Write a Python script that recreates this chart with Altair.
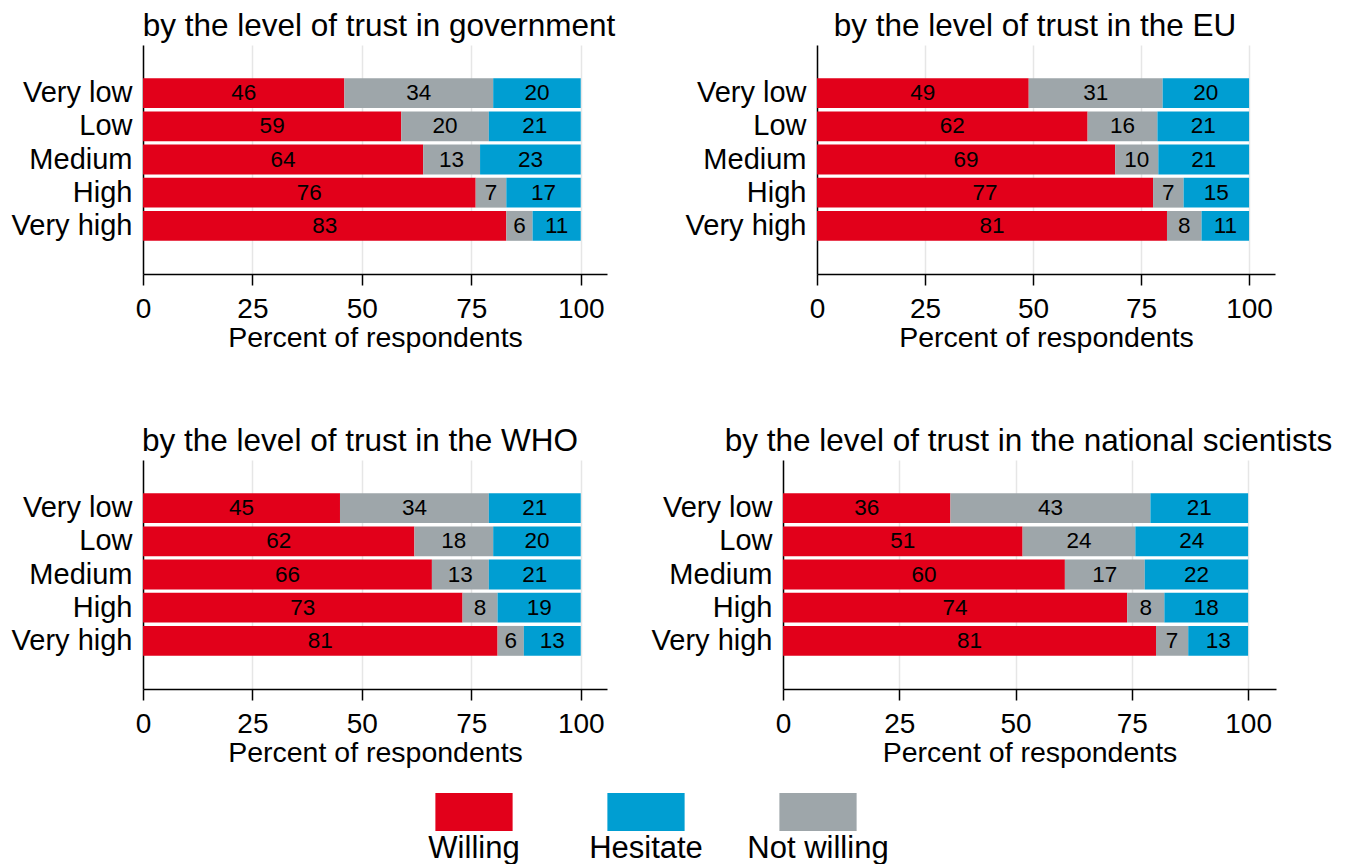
import altair as alt
import pandas as pd

levels = ["Very low", "Low", "Medium", "High", "Very high"]
stack_order = ["Willing", "Not willing", "Hesitate"]
legend_order = ["Willing", "Hesitate", "Not willing"]
legend_colors = ["#E2001A", "#009ED2", "#9EA6AA"]

titles = [
    "by the level of trust in government",
    "by the level of trust in the EU",
    "by the level of trust in the WHO",
    "by the level of trust in the national scientists",
]

gov_willing = [46, 59, 64, 76, 83]
gov_not = [34, 20, 13, 7, 6]
gov_hesitate = [20, 21, 23, 17, 11]

eu_willing = [49, 62, 69, 77, 81]
eu_not = [31, 16, 10, 7, 8]
eu_hesitate = [20, 21, 21, 15, 11]

who_willing = [45, 62, 66, 73, 81]
who_not = [34, 18, 13, 8, 6]
who_hesitate = [21, 20, 21, 19, 13]

sci_willing = [36, 51, 60, 74, 81]
sci_not = [43, 24, 17, 8, 7]
sci_hesitate = [21, 24, 22, 18, 13]

tick_values = [0, 25, 50, 75, 100]
x_title = "Percent of respondents"

FONT = "Liberation Sans"
color_scale = alt.Scale(domain=legend_order, range=legend_colors)
x_scale = alt.Scale(domain=[0, 106], nice=False)


def make_df(willing, not_willing, hesitate):
    rows = []
    for i, lvl in enumerate(levels):
        for k, (resp, arr) in enumerate(zip(stack_order, [willing, not_willing, hesitate])):
            rows.append({"level": lvl, "response": resp, "value": arr[i], "order": k})
    return pd.DataFrame(rows)


def panel(title, willing, not_willing, hesitate, width, dx, extra=None):
    df = make_df(willing, not_willing, hesitate)
    base = (
        alt.Chart(df)
        .transform_joinaggregate(total="sum(value)", groupby=["level"])
        .transform_window(
            cum="sum(value)", sort=[alt.SortField("order")], groupby=["level"], frame=[None, 0]
        )
        .transform_calculate(
            x1="(datum.cum - datum.value) / datum.total * 100",
            x2="datum.cum / datum.total * 100",
            mid="(datum.cum - datum.value / 2) / datum.total * 100",
        )
    )
    yenc = alt.Y(
        "level:N",
        sort=levels,
        scale=alt.Scale(paddingInner=0.1, paddingOuter=1.0),
        axis=alt.Axis(
            title=None,
            ticks=False,
            labelFontSize=29,
            labelPadding=11,
            labelColor="black",
            domainColor="black",
            domainWidth=1.5,
            grid=False,
            minExtent=135,
        ),
    )
    bars = base.mark_bar().encode(
        x=alt.X(
            "x1:Q",
            scale=x_scale,
            axis=alt.Axis(
                values=tick_values,
                title=x_title,
                labelFontSize=28,
                labelPadding=10,
                labelColor="black",
                labelFlush=False,
                tickSize=11,
                tickColor="black",
                tickWidth=1.5,
                domainColor="black",
                domainWidth=1.5,
                grid=True,
                gridColor="#e6e6e6",
                gridWidth=1.5,
                titleFontSize=28.5,
                titleFontWeight="normal",
                titleColor="black",
                titlePadding=0,
            ),
        ),
        x2="x2:Q",
        y=yenc,
        color=alt.Color("response:N", scale=color_scale, legend=None),
    )
    text = base.mark_text(fontSize=22.5, color="black", font=FONT).encode(
        x=alt.X("mid:Q", scale=x_scale),
        y=alt.Y("level:N", sort=levels),
        text="value:Q",
    )
    core = alt.layer(bars, text)
    if extra is not None:
        core = alt.layer(core, extra).resolve_scale(x="independent")
    return core.properties(
        width=width,
        height=229,
        title=alt.TitleParams(
            title,
            fontSize=31.5,
            fontWeight="normal",
            anchor="middle",
            frame="group",
            dx=dx,
            offset=3,
            color="black",
        ),
    )


# bottom legend (drawn with the lower-left panel, below its axis)
legend_df = pd.DataFrame({"response": legend_order})
leg_x = alt.X(
    "response:N",
    sort=legend_order,
    scale=alt.Scale(paddingInner=0.551, paddingOuter=0.2755, range=[245, 761]),
    axis=None,
)
leg_rect = alt.Chart(legend_df).mark_rect().encode(
    x=leg_x,
    y=alt.value(333),
    y2=alt.value(371),
    color=alt.Color("response:N", scale=color_scale, legend=None),
)
leg_text = alt.Chart(legend_df).mark_text(
    fontSize=31, baseline="alphabetic", color="black", font=FONT
).encode(x=leg_x, y=alt.value(398), text="response:N")
legend = alt.layer(leg_rect, leg_text)

p1 = panel(titles[0], gov_willing, gov_not, gov_hesitate, 464, 4)
p2 = panel(titles[1], eu_willing, eu_not, eu_hesitate, 458, -11)
p3 = panel(titles[2], who_willing, who_not, who_hesitate, 464, -15, extra=legend)
p4 = panel(titles[3], sci_willing, sci_not, sci_hesitate, 493, -1)

row1 = alt.hconcat(p1, p2, spacing=210, bounds="flush")
row2 = alt.hconcat(p3, p4, spacing=176, bounds="flush")

chart = (
    alt.vconcat(row1, row2, spacing=73)
    .properties(padding={"top": 2, "left": 0, "right": 0, "bottom": 0})
    .configure(font=FONT)
    .configure_view(stroke=None)
)

chart.save("out.html", embed_options={"renderer": "svg", "actions": False})
